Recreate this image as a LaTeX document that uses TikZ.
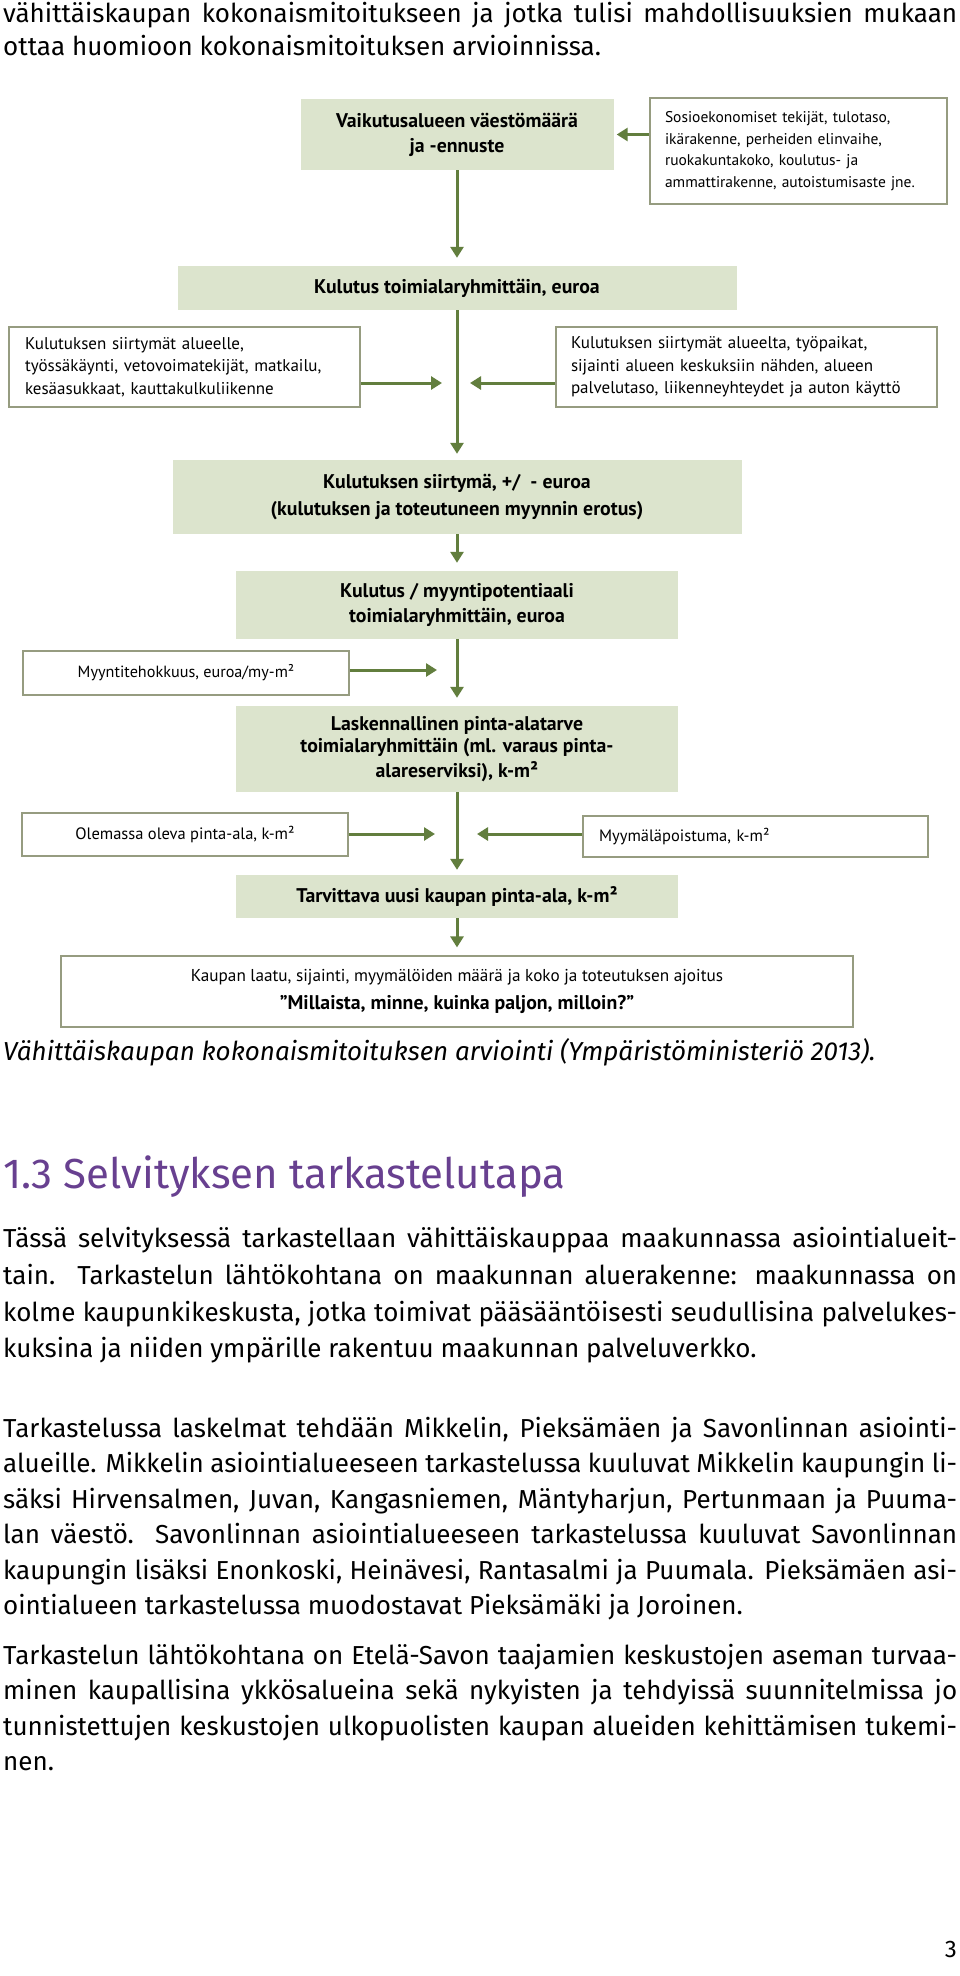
\documentclass[tikz,border=0pt]{standalone}
\usepackage{fontspec}
\usetikzlibrary{arrows.meta,calc}
\newfontfamily\bodyfont{Fira Sans}
\newfontfamily\diagfont{PT Sans}
\definecolor{boxgreen}{RGB}{220,228,205}
\definecolor{arrgreen}{RGB}{98,126,62}
\definecolor{boxline}{RGB}{150,156,128}
\definecolor{headpurple}{RGB}{104,64,144}
\newcommand\jl[1]{\makebox[954pt][s]{#1}}
\tikzset{
  gbox/.style={fill=boxgreen, draw=none, inner sep=0pt, align=center,
    font=\diagfont\bfseries\fontsize{19.8}{25}\selectfont},
  wbox/.style={fill=white, draw=boxline, line width=1.2pt, inner sep=0pt,
    font=\diagfont\fontsize{17}{22.5}\selectfont},
  arr/.style={draw=arrgreen, line width=3pt, -{Triangle[length=11pt,width=13pt]}},
  txt/.style={anchor=base west, inner sep=0pt, font=\bodyfont\fontsize{26}{30}\selectfont},
}
\begin{document}
\begin{tikzpicture}[x=1pt,y=-1pt]
\useasboundingbox (0,0) rectangle (960,1976);
\fill[white] (0,0) rectangle (960,1976);

% top text
\node[txt] (t1) at (3,22) {\jl{vähittäiskaupan kokonaismitoitukseen ja jotka tulisi mahdollisuuksien mukaan}};
\node[txt] (t2) at (3,55) {ottaa huomioon kokonaismitoituksen arvioinnissa.};

% diagram boxes
\node[gbox, minimum width=313pt, minimum height=71pt] (b1) at (457,134.5) {Vaikutusalueen väestömäärä\\ja -ennuste};
\node[wbox, minimum width=297pt, minimum height=106pt, text width=267pt, align=left, inner xsep=15pt, font=\diagfont\fontsize{15.5}{21.5}\selectfont] (S) at (798.5,151) {Sosioekonomiset tekijät, tulotaso,\\ikärakenne, perheiden elinvaihe,\\ruokakuntakoko, koulutus- ja\\ammattirakenne, autoistumisaste jne.};
\node[gbox, minimum width=559pt, minimum height=44pt] (b2) at (457,288) {Kulutus toimialaryhmittäin, euroa};
\node[wbox, minimum width=351pt, minimum height=80pt, text width=319pt, align=left, inner xsep=16pt] (L1) at (184.5,367) {Kulutuksen siirtymät alueelle,\\työssäkäynti, vetovoimatekijät, matkailu,\\kesäasukkaat, kauttakulkuliikenne};
\node[wbox, minimum width=381pt, minimum height=80pt, text width=351pt, align=left, inner xsep=15pt] (R1) at (746.5,367) {Kulutuksen siirtymät alueelta, työpaikat,\\sijainti alueen keskuksiin nähden, alueen\\palvelutaso, liikenneyhteydet ja auton käyttö};
\node[gbox, minimum width=569pt, minimum height=74pt, font=\diagfont\bfseries\fontsize{19.8}{27}\selectfont] (b3) at (457,497) {Kulutuksen siirtymä, +/ \ - euroa\\(kulutuksen ja toteutuneen myynnin erotus)};
\node[gbox, minimum width=442pt, minimum height=68pt] (b4) at (457,605) {Kulutus / myyntipotentiaali\\toimialaryhmittäin, euroa};
\node[wbox, minimum width=326pt, minimum height=44pt, align=center, font=\diagfont\fontsize{16.2}{20}\selectfont] (M) at (186,673) {Myyntitehokkuus, euroa/my-m²};
\node[gbox, minimum width=442pt, minimum height=86pt, font=\diagfont\bfseries\fontsize{19.8}{22}\selectfont] (b5) at (457,749) {Laskennallinen pinta-alatarve\\toimialaryhmittäin (ml. varaus pinta-\\[3pt]alareserviksi), k-m²};
\node[wbox, minimum width=326pt, minimum height=43pt, align=center, font=\diagfont\fontsize{16.5}{20}\selectfont] (O) at (185,834.5) {Olemassa oleva pinta-ala, k-m²};
\node[wbox, minimum width=345pt, minimum height=41pt, text width=313pt, align=left, inner xsep=16pt, font=\diagfont\fontsize{16.5}{20}\selectfont] (P) at (755.5,836.5) {Myymäläpoistuma, k-m²};
\node[gbox, minimum width=442pt, minimum height=43pt] (b6) at (457,896.5) {Tarvittava uusi kaupan pinta-ala, k-m²};
\node[wbox, minimum width=792pt, minimum height=71pt, align=center, font=\diagfont\fontsize{17.2}{28}\selectfont] (b7) at (457,991.5) {Kaupan laatu, sijainti, myymälöiden määrä ja koko ja toteutuksen ajoitus\\{\bfseries\fontsize{19.8}{28}\selectfont ”Millaista, minne, kuinka paljon, milloin?”}};

% junction points
\coordinate (j1) at (442,383);
\coordinate (j2) at (470,383);
\coordinate (jm) at (437,670);
\coordinate (jo) at (435,834);
\coordinate (jp) at (477,834);

% connectors
\draw[arr, shorten >=3pt] (S.west |- b1) -- (b1.east);
\draw[arr, shorten >=8pt] (b1) -- (b2);
\draw[arr, shorten >=6pt] (b2) -- (b3);
\draw[arr, shorten >=8pt] (b3) -- (b4);
\draw[arr, shorten >=8pt] (b4) -- (b5);
\draw[arr, shorten >=5pt] (b5) -- (b6);
\draw[arr, shorten >=8pt] (b6) -- (b7);
\draw[arr] (L1.east |- j1) -- (j1);
\draw[arr] (R1.west |- j2) -- (j2);
\draw[arr] (M.east |- jm) -- (jm);
\draw[arr] (O.east |- jo) -- (jo);
\draw[arr] (P.west |- jp) -- (jp);

% caption and heading
\node[txt, font=\bodyfont\itshape\fontsize{26}{30}\selectfont] (cap) at (3,1060) {Vähittäiskaupan kokonaismitoituksen arviointi (Ympäristöministeriö 2013).};
\node[txt, font=\bodyfont\fontsize{42}{46}\selectfont, text=headpurple] (head) at (3,1188) {1.3 Selvityksen tarkastelutapa};

% paragraph 1
\node[txt] (p1a) at (3,1247) {\jl{Tässä selvityksessä tarkastellaan vähittäiskauppaa maakunnassa asiointialueit-}};
\node[txt] (p1b) at (3,1284) {\jl{tain. Tarkastelun lähtökohtana on maakunnan aluerakenne: maakunnassa on}};
\node[txt] (p1c) at (3,1321) {\jl{kolme kaupunkikeskusta, jotka toimivat pääsääntöisesti seudullisina palvelukes-}};
\node[txt] (p1d) at (3,1357) {kuksina ja niiden ympärille rakentuu maakunnan palveluverkko.};

% paragraph 2
\node[txt] (p2a) at (3,1437) {\jl{Tarkastelussa laskelmat tehdään Mikkelin, Pieksämäen ja Savonlinnan asiointi-}};
\node[txt] (p2b) at (3,1472.5) {\jl{alueille. Mikkelin asiointialueeseen tarkastelussa kuuluvat Mikkelin kaupungin li-}};
\node[txt] (p2c) at (3,1508) {\jl{säksi Hirvensalmen, Juvan, Kangasniemen, Mäntyharjun, Pertunmaan ja Puuma-}};
\node[txt] (p2d) at (3,1543.5) {\jl{lan väestö. Savonlinnan asiointialueeseen tarkastelussa kuuluvat Savonlinnan}};
\node[txt] (p2e) at (3,1579) {\jl{kaupungin lisäksi Enonkoski, Heinävesi, Rantasalmi ja Puumala. Pieksämäen asi-}};
\node[txt] (p2f) at (3,1614.5) {ointialueen tarkastelussa muodostavat Pieksämäki ja Joroinen.};

% paragraph 3
\node[txt] (p3a) at (3,1664) {\jl{Tarkastelun lähtökohtana on Etelä-Savon taajamien keskustojen aseman turvaa-}};
\node[txt] (p3b) at (3,1699.5) {\jl{minen kaupallisina ykkösalueina sekä nykyisten ja tehdyissä suunnitelmissa jo}};
\node[txt] (p3c) at (3,1735) {\jl{tunnistettujen keskustojen ulkopuolisten kaupan alueiden kehittämisen tukemi-}};
\node[txt] (p3d) at (3,1770.5) {nen.};

% page number
\node[anchor=base east, inner sep=0pt, font=\bodyfont\fontsize{24}{28}\selectfont] (pg) at (957,1957) {3};
\end{tikzpicture}
\end{document}
